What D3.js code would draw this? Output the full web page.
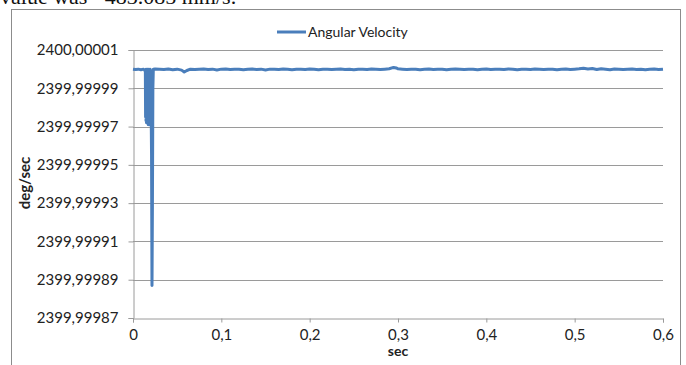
<!DOCTYPE html>
<html><head><meta charset="utf-8">
<script src="https://cdn.jsdelivr.net/npm/d3@7"></script>
<style>body{margin:0;background:#fff}svg{display:block}</style>
</head><body>
<svg id="c" width="686" height="365"></svg>
<script>
const seriesName = "Angular Velocity";
const xTicks = [0, 0.1, 0.2, 0.3, 0.4, 0.5, 0.6];
const yTicks = [2400.00001, 2399.99999, 2399.99997, 2399.99995, 2399.99993, 2399.99991, 2399.99989, 2399.99987];
const timeSec = [
0.000,0.003,0.006,0.009,0.012,0.013,0.0138,
0.01400,0.01425,0.01450,0.01475,0.01500,0.01525,0.01550,0.01575,0.01600,0.01625,0.01650,0.01675,0.01700,0.01725,0.01750,0.01775,
0.01800,0.01825,0.01850,0.01875,0.01900,0.01925,0.01950,0.01975,0.02000,0.02025,0.02050,0.02075,0.02100,
0.0215,0.022,0.0225,0.023,0.025,
0.030,0.035,0.040,0.045,0.050,0.055,0.058,0.061,0.065,0.070,0.075,0.080,0.085,0.090,0.095,0.100,
0.105,0.110,0.115,0.120,0.125,0.130,0.135,0.140,0.145,0.150,0.155,0.160,0.165,0.170,0.175,0.180,
0.185,0.190,0.195,0.200,0.205,0.210,0.215,0.220,0.225,0.230,0.235,0.240,0.245,0.250,0.255,0.260,
0.265,0.270,0.275,0.280,0.285,0.290,0.295,0.298,0.300,0.305,0.310,0.315,0.320,0.325,0.330,0.335,
0.340,0.345,0.350,0.355,0.360,0.365,0.370,0.375,0.380,0.385,0.390,0.395,0.400,0.405,0.410,0.415,
0.420,0.425,0.430,0.435,0.440,0.445,0.450,0.455,0.460,0.465,0.470,0.475,0.480,0.485,0.490,0.495,
0.500,0.505,0.510,0.515,0.520,0.525,0.530,0.535,0.540,0.545,0.550,0.555,0.560,0.565,0.570,0.575,
0.580,0.585,0.590,0.595,0.600];
const angularVelocity = [
2400.0000000,2399.9999998,2400.0000000,2399.9999997,2400.0000000,2399.9999995,2399.9999990,
2399.999999,2399.999975,2399.999999,2399.999973,2400.000000,2399.999972,2399.999999,2399.999974,2399.999998,2399.999972,2400.000000,2399.999973,2399.999999,2399.999971,2399.999998,2399.999972,
2400.000000,2399.999973,2399.999999,2399.999971,2399.999998,2399.999972,2400.000000,2399.999973,2399.999999,2399.999974,2399.999998,2399.999968,2399.999955,
2399.999887,2399.999930,2399.999990,2400.0000000,2400.0000001,
2400.0000000,2399.9999998,2400.0000001,2399.9999997,2400.0000000,2399.9999995,2399.9999985,2399.9999993,2400.0000000,2399.9999998,2400.0000000,2400.0000001,2399.9999998,2400.0000000,2399.9999996,2400.0000000,
2400.0000001,2399.9999998,2400.0000000,2400.0000000,2399.9999997,2400.0000000,2400.0000001,2399.9999998,2400.0000000,2399.9999996,2400.0000000,2400.0000000,2399.9999998,2400.0000001,2400.0000000,2399.9999997,
2400.0000000,2400.0000000,2399.9999998,2400.0000001,2400.0000000,2399.9999997,2400.0000000,2400.0000000,2399.9999998,2400.0000000,2400.0000001,2399.9999998,2400.0000000,2399.9999997,2400.0000000,2400.0000000,
2399.9999998,2400.0000001,2400.0000000,2399.9999998,2400.0000000,2400.0000002,2400.0000009,2400.0000006,2400.0000002,2400.0000000,2399.9999998,2400.0000000,2400.0000000,2399.9999997,2400.0000000,2400.0000001,
2399.9999998,2400.0000000,2400.0000000,2399.9999997,2400.0000000,2400.0000001,2400.0000000,2399.9999998,2400.0000000,2400.0000000,2399.9999997,2400.0000000,2400.0000001,2399.9999998,2400.0000000,2400.0000000,
2399.9999998,2400.0000001,2400.0000000,2399.9999997,2400.0000000,2400.0000000,2399.9999998,2400.0000001,2400.0000000,2399.9999998,2400.0000000,2400.0000000,2399.9999997,2400.0000000,2400.0000001,2399.9999998,
2400.0000000,2400.0000002,2400.0000005,2400.0000001,2400.0000003,2399.9999998,2400.0000002,2400.0000000,2399.9999997,2400.0000001,2400.0000000,2399.9999998,2400.0000000,2400.0000001,2399.9999998,2400.0000000,
2399.9999997,2400.0000000,2400.0000001,2399.9999998,2400.0000000];

const svg = d3.select("#c");
const font = "Lato, 'Open Sans', sans-serif";
const fmt = v => d3.format(".5f")(v).replace(".", ",");
const fmtX = v => (v === 0 ? "0" : d3.format(".1f")(v).replace(".", ","));

// top cut-off text
svg.append("text").attr("x", 0).attr("y", 4).attr("font-family", "'Liberation Serif', serif")
  .attr("font-size", 22).attr("fill", "#111").text("value was ~483.085 mm/s.");

// frame
svg.append("rect").attr("x", 11.5).attr("y", 9.5).attr("width", 669).attr("height", 400)
  .attr("fill", "#fff").attr("stroke", "#8c8c8c");

const pLeft = 133, pRight = 663, pTop = 50, pBottom = 318;
const x = d3.scaleLinear().domain([0, 0.6]).range([pLeft, pRight]);
const y = d3.scaleLinear().domain([yTicks[yTicks.length - 1], yTicks[0]]).range([pBottom, pTop]);

// gridlines
svg.append("g").selectAll("line").data(yTicks.slice(0, -1)).join("line")
  .attr("x1", pLeft).attr("x2", pRight)
  .attr("y1", d => Math.round(y(d)) + 0.5).attr("y2", d => Math.round(y(d)) + 0.5)
  .attr("stroke", "#9a9a9a").attr("stroke-width", 1);

// y axis
const ya = svg.append("g").attr("transform", `translate(${pLeft + 0.5},0)`)
  .call(d3.axisLeft(y).tickValues(yTicks).tickFormat(fmt).tickSize(5).tickPadding(10));
ya.select(".domain").attr("stroke", "#9a9a9a");
ya.selectAll(".tick line").attr("stroke", "#9a9a9a");
ya.selectAll("text").attr("font-family", font).attr("font-size", 15).attr("fill", "#222");

// x axis
const xa = svg.append("g").attr("transform", `translate(0,${pBottom + 0.5})`)
  .call(d3.axisBottom(x).tickValues(xTicks).tickFormat(fmtX).tickSize(4).tickPadding(7).tickSizeOuter(4));
xa.select(".domain").attr("stroke", "#9a9a9a");
xa.selectAll(".tick line").attr("stroke", "#9a9a9a");
xa.selectAll("text").attr("font-family", font).attr("font-size", 15).attr("fill", "#222");

// line
const data = timeSec.map((t, i) => [t, angularVelocity[i]]);
svg.append("path").datum(data)
  .attr("d", d3.line().x(d => x(d[0])).y(d => y(d[1])))
  .attr("fill", "none").attr("stroke", "#4a7ebb").attr("stroke-width", 3)
  .attr("stroke-linejoin", "round");

// axis titles
svg.append("text").attr("transform", "translate(30,183) rotate(-90)").attr("text-anchor", "middle")
  .attr("font-family", font).attr("font-weight", "bold").attr("font-size", 15).attr("fill", "#222").text("deg/sec");
svg.append("text").attr("x", x(0.3)).attr("y", 356).attr("text-anchor", "middle")
  .attr("font-family", font).attr("font-weight", "bold").attr("font-size", 14).attr("fill", "#222").text("sec");

// legend
svg.append("line").attr("x1", 277).attr("x2", 306).attr("y1", 32).attr("y2", 32)
  .attr("stroke", "#4a7ebb").attr("stroke-width", 3);
svg.append("text").attr("x", 308).attr("y", 37).attr("font-family", font).attr("font-size", 14)
  .attr("fill", "#222").text(seriesName);
</script>
</body></html>
